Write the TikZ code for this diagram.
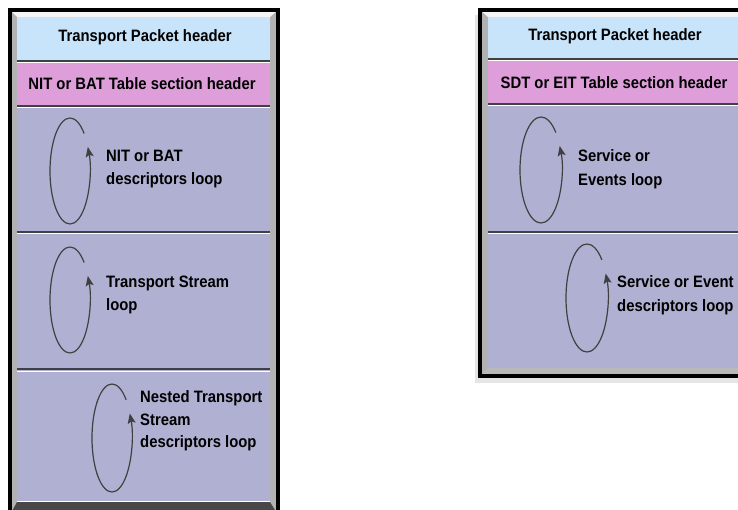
\documentclass[tikz,border=0pt]{standalone}
\usepackage{fontspec}
\setmainfont{Liberation Sans}[FakeStretch=0.9]
\usetikzlibrary{arrows.meta}
\definecolor{hdrblue}{RGB}{200,228,250}
\definecolor{secpink}{RGB}{222,158,218}
\definecolor{looppurple}{RGB}{176,176,210}

\begin{document}
\begin{tikzpicture}[x=1pt,y=1pt,yscale=-1,
  sepline/.style={line width=2.5pt,black!75},
  hiline/.style={line width=1pt,white},
  hdr/.style={font=\fontsize{16.5}{18}\selectfont\bfseries,inner sep=0pt},
  lbl/.style={font=\fontsize{16.5}{23.5}\selectfont\bfseries,inner sep=0pt,align=left,anchor=west},
  loopline/.style={line width=1.2pt,black!75,-{Stealth[length=10pt,width=8pt,inset=2pt]}}]
\useasboundingbox (0,0) rectangle (738,510);

% Left table (NIT / BAT)
\fill[gray!60] (10,10) rectangle (278,530);
\fill[gray!8] (10,10) -- (278,10) -- (270,17) -- (17,17) -- cycle;
\fill[looppurple] (17,17) rectangle (270,502);
\fill[hdrblue] (17,17) rectangle (270,61);
\fill[secpink] (17,61) rectangle (270,106);
\fill[black!72] (10,515) -- (17,502) -- (270,502) -- (278,515) -- cycle;
\foreach \y in {61,106,232,369} {
  \draw[sepline] (17,\y) -- (270,\y);
  \draw[hiline] (17,\y+2) -- (270,\y+2);
}
\draw[hiline] (17,501.5) -- (270,501.5);
\draw[line width=4.5pt] (10,10) rectangle (278,530);

\node[hdr] (tphL) at (145,37) {Transport Packet header};
\node[hdr] (secL) at (142,84) {NIT or BAT Table section header};

% Right table (SDT / EIT)
\fill[black!10] (475,15) rectangle (760,383);
\fill[gray!60] (480,10) rectangle (760,376);
\fill[gray!8] (480,10) -- (760,10) -- (760,17) -- (488,17) -- cycle;
\fill[looppurple] (488,17) rectangle (760,368);
\fill[hdrblue] (488,17) rectangle (760,59);
\fill[secpink] (488,59) rectangle (760,104);
\fill[gray!55] (480,376) -- (488,368) -- (760,368) -- (760,376) -- cycle;
\foreach \y in {59,104,232} {
  \draw[sepline] (488,\y) -- (760,\y);
  \draw[hiline] (488,\y+2) -- (760,\y+2);
}
\draw[line width=4.5pt] (480,10) rectangle (760,376);

\node[hdr] (tphR) at (615,36) {Transport Packet header};
\node[hdr] (secR) at (614,83) {SDT or EIT Table section header};

% Loops
\foreach \cx/\cy/\rx/\ry in {70/171/20/53, 70/300/20/53, 112/438/20/54, 541/170/21/53, 587/298/21/54} {
  \draw[loopline] (\cx,\cy) ++(-45:\rx pt and \ry pt)
    arc[start angle=-45,end angle=-387,x radius=\rx,y radius=\ry];
}

% Loop labels
\node[lbl] (nitLoop) at (106,169) {NIT or BAT\\descriptors loop};
\node[lbl] (tsLoop) at (106,295) {Transport Stream\\loop};
\node[lbl,font=\fontsize{16.5}{22.5}\selectfont\bfseries] (nestLoop) at (140,421) {Nested Transport\\Stream\\descriptors loop};
\node[lbl] (svcLoop) at (578,169) {Service or\\Events loop};
\node[lbl] (descLoop) at (617,295) {Service or Event\\descriptors loop};
\end{tikzpicture}
\end{document}
